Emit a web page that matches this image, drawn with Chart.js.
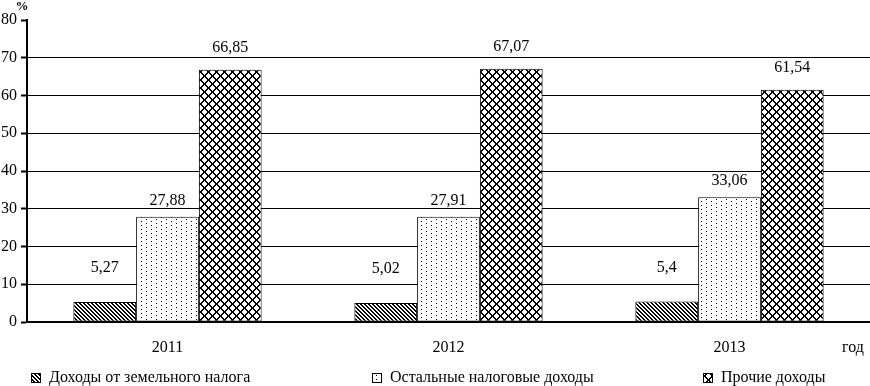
<!DOCTYPE html>
<html>
<head>
<meta charset="utf-8">
<script src="https://cdn.jsdelivr.net/npm/chart.js@4"></script>
<style>
  body { margin: 0; background: #fff; }
  canvas { display: block; }
</style>
</head>
<body>
<canvas id="myChart" width="870" height="386"></canvas>
<script>
const years = ['2011', '2012', '2013'];
const landTax = [5.27, 5.02, 5.4];
const otherTax = [27.88, 27.91, 33.06];
const otherIncome = [66.85, 67.07, 61.54];
const seriesNames = ['Доходы от земельного налога', 'Остальные налоговые доходы', 'Прочие доходы'];
const yTicks = [0, 10, 20, 30, 40, 50, 60, 70, 80];

const serif = "'Liberation Serif', 'Times New Roman', serif";

// small tile canvases used as fill patterns
function makeTile(w, h, draw) {
  const c = document.createElement('canvas');
  c.width = w;
  c.height = h;
  const t = c.getContext('2d');
  t.fillStyle = '#fff';
  t.fillRect(0, 0, w, h);
  t.fillStyle = '#000';
  draw(t);
  return c;
}

const chartContext = document.getElementById('myChart').getContext('2d');

const hatchTile = makeTile(4, 4, t => {
  for (let i = 0; i < 4; i++) {
    t.fillRect(i, i, 1, 1);
    t.fillRect((i + 1) % 4, i, 1, 1);
  }
});
const dotTile = makeTile(10, 8, t => {
  t.fillRect(1, 1, 1, 1);
  t.fillRect(1, 5, 1, 1);
  t.fillRect(6, 3, 1, 1);
  t.fillRect(6, 7, 1, 1);
});
const crossTile = makeTile(8, 8, t => {
  for (let i = 0; i < 8; i++) {
    t.fillRect(i, i, 1, 1);
    t.fillRect((i + 1) % 8, i, 1, 1);
    t.fillRect(7 - i, i, 1, 1);
    t.fillRect((8 - i) % 8, i, 1, 1);
  }
});

const fills = [
  chartContext.createPattern(hatchTile, 'repeat'),
  chartContext.createPattern(dotTile, 'repeat'),
  chartContext.createPattern(crossTile, 'repeat')
];

function fmt(v) {
  return String(v).replace('.', ',');
}

const barLabels = {
  id: 'barLabels',
  afterDatasetsDraw(chart) {
    const ctx = chart.ctx;
    ctx.save();
    ctx.font = '16px ' + serif;
    ctx.fillStyle = '#000';
    ctx.textAlign = 'center';
    ctx.textBaseline = 'middle';
    chart.data.datasets.forEach((ds, i) => {
      chart.getDatasetMeta(i).data.forEach((bar, j) => {
        ctx.fillText(fmt(ds.data[j]), bar.x, bar.y - ds.labelGap);
      });
    });
    ctx.restore();
  }
};

const extras = {
  id: 'extras',
  afterDraw(chart) {
    const ctx = chart.ctx;
    ctx.save();
    ctx.fillStyle = '#000';
    ctx.textBaseline = 'middle';
    ctx.font = 'bold 13px ' + serif;
    ctx.textAlign = 'center';
    ctx.fillText('%', 22, 7);
    ctx.font = '16px ' + serif;
    ctx.fillText('год', 853, 348);

    // legend
    const spots = [31, 372, 703];
    ctx.textAlign = 'left';
    seriesNames.forEach((name, i) => {
      const x = spots[i];
      ctx.fillStyle = fills[i];
      ctx.fillRect(x, 373, 9, 9);
      ctx.strokeStyle = '#000';
      ctx.lineWidth = 1;
      ctx.strokeRect(x + 0.5, 373.5, 9, 9);
      ctx.fillStyle = '#000';
      ctx.fillText(name, x + 18, 378);
    });
    ctx.restore();
  }
};

new Chart(chartContext, {
  type: 'bar',
  data: {
    labels: years,
    datasets: [
      { label: seriesNames[0], data: landTax, backgroundColor: fills[0], labelGap: 34 },
      { label: seriesNames[1], data: otherTax, backgroundColor: fills[1], labelGap: 16 },
      { label: seriesNames[2], data: otherIncome, backgroundColor: fills[2], labelGap: 22 }
    ]
  },
  options: {
    responsive: false,
    animation: false,
    events: [],
    layout: { padding: { top: 20, left: 0, right: 0, bottom: 0 } },
    datasets: {
      bar: {
        borderColor: '#000',
        borderWidth: 1,
        borderSkipped: false,
        categoryPercentage: 0.67,
        barPercentage: 1
      }
    },
    plugins: {
      legend: { display: false },
      tooltip: { enabled: false }
    },
    scales: {
      x: {
        grid: { display: false, drawTicks: false },
        border: { display: true, color: '#000', width: 2 },
        ticks: { color: '#000', font: { family: serif, size: 16 }, padding: 16 },
        afterFit(scale) { scale.height = 64; }
      },
      y: {
        min: 0,
        max: 80,
        afterBuildTicks(scale) { scale.ticks = yTicks.map(v => ({ value: v })); },
        grid: {
          color: c => (c.tick && (c.tick.value === 80 || c.tick.value === 0)) ? 'rgba(0,0,0,0)' : '#000',
          lineWidth: 1,
          tickColor: '#000',
          tickLength: 6,
          tickWidth: 2
        },
        border: { display: true, color: '#000', width: 2 },
        ticks: { color: '#000', font: { family: serif, size: 16 }, padding: 4 },
        afterFit(scale) { scale.width = 27; }
      }
    }
  },
  plugins: [barLabels, extras]
});
</script>
</body>
</html>
